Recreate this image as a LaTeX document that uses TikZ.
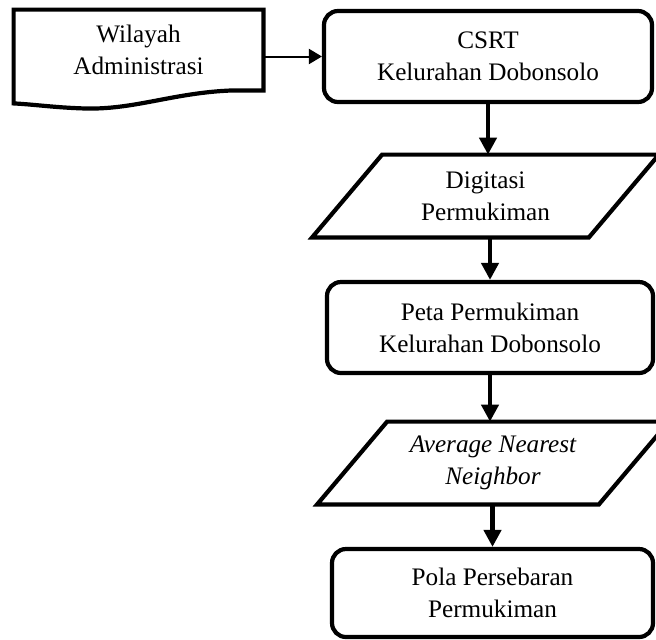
\documentclass[tikz,border=0pt]{standalone}
\usepackage{fontspec}
\setmainfont{Liberation Serif}
\usetikzlibrary{positioning,calc,arrows.meta}

\tikzset{
	teks/.style={align=center,font=\fontsize{12.6}{16}\selectfont},
	proses/.style={teks,draw,rounded corners=7pt,line width=2.1pt},
	garis/.style={line width=2.1pt,line join=miter},
	panah/.style={line width=2.3pt,-{Triangle[length=8.5pt,width=8.5pt]}},
	panahtipis/.style={line width=1pt,-{Triangle[length=6.5pt,width=7.5pt]}}
}

\begin{document}
\begin{tikzpicture}[x=0.5pt,y=-0.5pt]
		\useasboundingbox (0,0) rectangle (656,639);

		\node[teks,minimum width=124.5pt,minimum height=40pt]	(wil)	at (138.5,50)	{Wilayah\\Administrasi};
		\node[proses,minimum width=164pt,minimum height=45.5pt]	(csrt)	at (488,56.5)	{CSRT\\Kelurahan Dobonsolo};
		\node[teks,minimum width=138pt,minimum height=41pt]		(dig)	at (485.5,196)	{Digitasi\\Permukiman};
		\node[proses,minimum width=163pt,minimum height=45.5pt]	(peta)	at (490,327.5)	{Peta Permukiman\\Kelurahan Dobonsolo};
		\node[teks,minimum width=140.5pt,minimum height=41pt]	(ann)	at (493,463)	{\itshape Average Nearest\\\itshape Neighbor};
		\node[proses,minimum width=160.5pt,minimum height=44pt]	(pola)	at (492.5,593)	{Pola Persebaran\\Permukiman};

		\draw[garis] (wil.north west) -- (wil.north east) -- (wil.south east) -- ($(wil.south east)+(-30,0)$)
			.. controls ($(wil.south east)+(-90,2)$) and ($(wil.south west)+(120,20)$) .. ($(wil.south west)+(69,18)$)
			.. controls ($(wil.south west)+(40,17)$) and ($(wil.south west)+(20,14)$) .. ($(wil.south west)+(0,13)$) -- cycle;
		\draw[garis] ($(dig.north west)+(35,0)$) -- ($(dig.north east)+(35,0)$) -- ($(dig.south east)+(-35,0)$) -- ($(dig.south west)+(-35,0)$) -- cycle;
		\draw[garis] ($(ann.north west)+(35,0)$) -- ($(ann.north east)+(35,0)$) -- ($(ann.south east)+(-35,0)$) -- ($(ann.south west)+(-35,0)$) -- cycle;

		\draw[panahtipis]	(wil.east |- csrt.west)	-- (csrt.west);
		\draw[panah]		(csrt.south)	-- (csrt.south |- dig.north);
		\draw[panah]		(dig.south -| peta.north)	-- (peta.north);
		\draw[panah]		(peta.south)	-- (peta.south |- ann.north);
		\draw[panah]		(ann.south -| pola.north)	-- (pola.north);
	\end{tikzpicture}
\end{document}
